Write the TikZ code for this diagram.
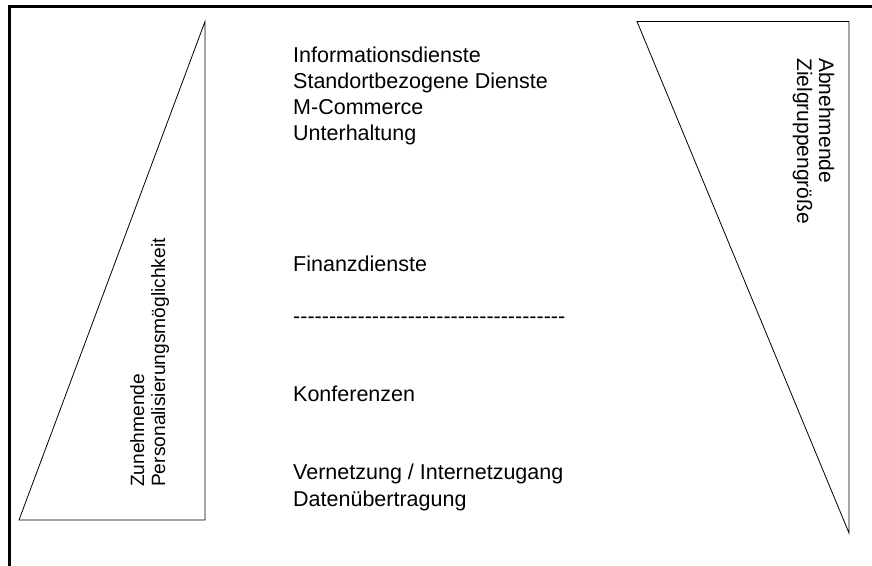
\documentclass[tikz,border=0pt]{standalone}
\usepackage{fontspec}
\setmainfont{Liberation Sans}
\begin{document}
\begin{tikzpicture}[x=1pt,y=-1pt,
  wedge/.style={draw=black,line width=0.8pt,line join=miter},
  frameline/.style={draw=black,line width=2.7pt},
  item/.style={anchor=base west,inner sep=0pt,font=\fontsize{21.5}{26}\selectfont},
  sidelabel/.style={anchor=base west,inner sep=0pt},
  ]
\useasboundingbox (0,0) rectangle (872,565);

% outer frame (only its top and left edges fall on the page)
\draw[frameline] (9.2,590) -- (9.2,6.2) -- (895,6.2);

% left wedge: growing personalisation
\draw[wedge] (205,21.5) -- (19,520) -- (205,520) -- cycle;
\node[sidelabel,rotate=90,font=\fontsize{19.2}{23}\selectfont] (zun) at (144,487) {Zunehmende};
\node[sidelabel,rotate=90,font=\fontsize{19.2}{23}\selectfont] (pers) at (165,487) {Personalisierungsmöglichkeit};

% right wedge: shrinking target group
\draw[wedge] (637,21.5) -- (849,21.5) -- (849,533) -- cycle;
\node[sidelabel,rotate=-90,font=\fontsize{21}{25}\selectfont] (abn) at (819,58) {Abnehmende};
\node[sidelabel,rotate=-90,font=\fontsize{21}{25}\selectfont] (ziel) at (797,58) {Zielgruppengröße};

% service list
\node[item] (info)  at (293,62.3)  {Informationsdienste};
\node[item] (stand) at (293,88.4)  {Standortbezogene Dienste};
\node[item] (mcom)  at (293,114.5) {M-Commerce};
\node[item] (unter) at (293,140.6) {Unterhaltung};
\node[item] (fin)   at (293,271.1) {Finanzdienste};
\node[item] (sep)   at (293,323.3) {-{}-{}-{}-{}-{}-{}-{}-{}-{}-{}-{}-{}-{}-{}-{}-{}-{}-{}-{}-{}-{}-{}-{}-{}-{}-{}-{}-{}-{}-{}-{}-{}-{}-{}-{}-{}-{}-{}};
\node[item] (konf)  at (293,401.6) {Konferenzen};
\node[item] (netz)  at (293,479.9) {Vernetzung / Internetzugang};
\node[item] (daten) at (293,506.0) {Datenübertragung};
\end{tikzpicture}
\end{document}
